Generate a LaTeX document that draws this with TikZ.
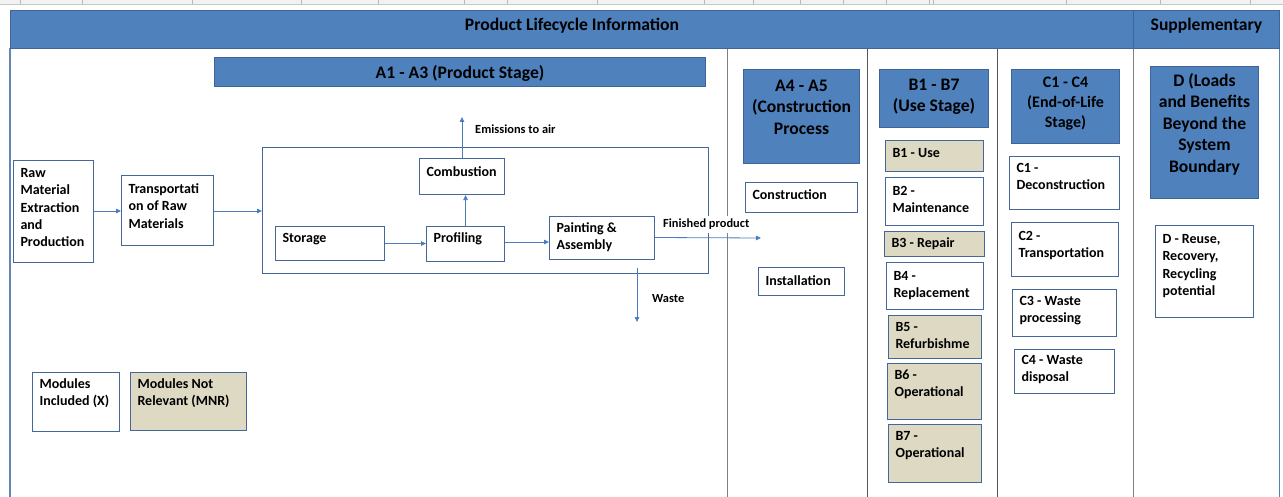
\documentclass[tikz,border=0pt]{standalone}
\usepackage{fontspec}
\setmainfont{Carlito}
\usetikzlibrary{arrows.meta}
\definecolor{hblue}{HTML}{4F81BD}
\definecolor{hborder}{HTML}{3F6598}
\definecolor{bborder}{HTML}{45679A}
\definecolor{beige}{HTML}{DDD9C3}
\definecolor{arrowc}{HTML}{4A7EBB}
\definecolor{divg}{HTML}{555555}
\definecolor{divl}{HTML}{808080}
\definecolor{leftb}{HTML}{6485B5}
% name, x1, y1, x2, y2, style, first-baseline offset, text
\newcommand\tbox[8]{%
  \node[#6, anchor=north west, inner sep=0pt, minimum width={(#4-#2)*1pt}, minimum height={(#5-#3)*1pt}] (#1) at (#2,#3)
  {\hspace*{7pt}\parbox[t][\dimexpr#5pt-#3pt\relax][t]{\dimexpr#4pt-#2pt-7pt\relax}{\raggedright\rule{0pt}{#7pt}#8}};}
\newcommand\cbox[8]{%
  \node[#6, anchor=north west, inner sep=0pt, minimum width={(#4-#2)*1pt}, minimum height={(#5-#3)*1pt}] (#1) at (#2,#3)
  {\parbox[t][\dimexpr#5pt-#3pt\relax][t]{\dimexpr#4pt-#2pt\relax}{\centering\rule{0pt}{#7pt}#8}};}
\begin{document}
\begin{tikzpicture}[x=1pt,y=-1pt,
  wbox/.style={draw=bborder, line width=1.1pt, fill=white, font=\fontsize{14}{17.3}\selectfont\bfseries},
  gbox/.style={wbox, fill=beige},
  hbx/.style={draw=hborder, line width=1pt, fill=hblue, font=\fontsize{17.6}{21.5}\selectfont\bfseries},
  hbxs/.style={hbx, font=\fontsize{16}{20}\selectfont\bfseries},
  lbl/.style={font=\fontsize{12.4}{15}\selectfont\bfseries, inner sep=0pt},
  arr/.style={draw=arrowc, line width=0.8pt, -{Triangle[length=5pt,width=4.5pt]}},
  divider/.style={line width=1pt}
  ]
\useasboundingbox (0,0) rectangle (1283,497);
% ruler strip at the top
\fill[gray!10] (0,0) rectangle (1283,4);
\draw[gray!45, line width=0.6pt] (0,4) -- (1283,4);
\foreach \t in {20,82,192,301,378,464,507,597,704,753,800,843,886,929,933,1066,1160,1250}
  \draw[gray!55, line width=0.5pt] (\t,0) -- (\t,4);
% frame and column dividers
\draw[leftb, line width=1.8pt] (10,48) -- (10,497);
\draw[hblue, line width=1pt] (1279,48) -- (1279,497);
\draw[divider, divl] (727,48) -- (727,497);
\draw[divider, divg] (867,48) -- (867,497);
\draw[divider, divg] (997,48) -- (997,497);
\draw[divider, divl] (1133,48) -- (1133,497);
% header band
\cbox{hdr}{10}{10}{1133}{48}{hbx}{20.5}{Product Lifecycle Information}
\cbox{sup}{1133}{10}{1279}{48}{hbx}{20}{Supplementary}
% stage headers
\cbox{a13}{214}{57}{705}{86}{hbx}{20.7}{A1 - A3 (Product Stage)}
\cbox{a45}{743}{69}{859}{163}{hbx}{22}{A4 - A5\\(Construction\\Process}
\cbox{b17}{879}{69}{988}{127}{hbx}{21}{B1 - B7\\(Use Stage)}
\cbox{c14}{1011}{69}{1119}{143}{hbxs}{18}{C1 - C4\\(End-of-Life\\Stage)}
\cbox{dh}{1150}{66}{1258}{198}{hbx}{20}{D (Loads\\and Benefits\\Beyond the\\System\\Boundary}
% product stage
\tbox{raw}{13}{160}{93}{262}{wbox}{17}{Raw\\Material\\Extraction\\and\\Production}
\tbox{trans}{121}{175}{213}{245}{wbox}{18}{Transportati\\on of Raw\\Materials}
\node[draw=bborder, line width=1.1pt, anchor=north west, inner sep=0pt, minimum width=446pt, minimum height=126pt] (proc) at (262,147) {};
\tbox{comb}{419}{158}{504}{194}{wbox}{18}{Combustion}
\tbox{stor}{275}{226}{384}{260}{wbox}{16}{Storage}
\tbox{prof}{426}{226}{504}{261}{wbox}{16}{Profiling}
\tbox{paint}{549}{216}{654}{259}{wbox}{16}{Painting \&\\Assembly}
% legend
\tbox{modx}{32}{372}{119}{431}{wbox}{16}{Modules\\Included (X)}
\tbox{mnr}{130}{372}{246}{430}{gbox}{16}{Modules Not\\Relevant (MNR)}
% construction
\tbox{constr}{745}{182}{857}{212}{wbox}{17}{Construction}
\tbox{inst}{758}{267}{844}{295}{wbox}{18}{Installation}
% use stage
\tbox{b1}{885}{140}{983}{171}{gbox}{17}{B1 - Use}
\tbox{b2}{885}{177}{983}{225}{wbox}{18}{B2 -\\Maintenance}
\tbox{b3}{884}{231}{984}{256}{gbox}{16}{B3 - Repair}
\tbox{b4}{886}{262}{983}{309}{wbox}{18}{B4 -\\Replacement}
\tbox{b5}{888}{315}{981}{358}{gbox}{16}{B5 -\\Refurbishme}
\tbox{b6}{887}{363}{981}{419}{gbox}{16}{B6 -\\Operational}
\tbox{b7}{888}{424}{981}{482}{gbox}{16}{B7 -\\Operational}
% end of life
\tbox{c1}{1009}{156}{1119}{209}{wbox}{16}{C1 -\\Deconstruction}
\tbox{c2}{1011}{222}{1118}{276}{wbox}{18}{C2 -\\Transportation}
\tbox{c3}{1012}{289}{1116}{336}{wbox}{16}{C3 - Waste\\processing}
\tbox{c4}{1014}{349}{1114}{393}{wbox}{15}{C4 - Waste\\disposal}
% supplementary
\tbox{dr}{1155}{225}{1253}{317}{wbox}{18}{D - Reuse,\\Recovery,\\Recycling\\potential}
% connectors
\coordinate (emi) at (462,117);
\coordinate (fin) at (761,238);
\coordinate (wst0) at (637,268);
\coordinate (wst1) at (637,322);
\draw[arr] (raw.east |- 0,211) -- (trans.west |- 0,211);
\draw[arr] (trans.east |- 0,211) -- (proc.west |- 0,211);
\draw[arr] (stor.east) -- (stor.east -| prof.west);
\draw[arr] (prof.east |- 0,242) -- (paint.west |- 0,242);
\draw[arr] (prof.north) -- (prof.north |- comb.south);
\draw[arr] (comb.north -| emi) -- (emi);
\draw[arr] (wst0) -- (wst1);
\node[lbl, anchor=base west] (emil) at (475,134) {Emissions to air};
\node[lbl, anchor=base west, fill=white, inner ysep=3pt] (finl) at (663,228) {Finished product};
\draw[arr] (paint.east |- 0,237.5) -- (fin);
\node[lbl, anchor=base west] (wstl) at (652,302) {Waste};
\end{tikzpicture}
\end{document}
